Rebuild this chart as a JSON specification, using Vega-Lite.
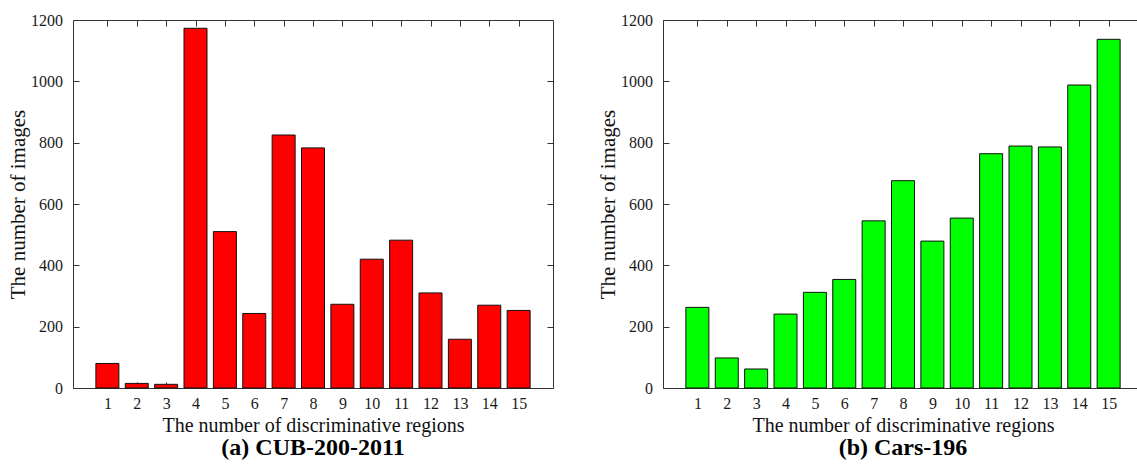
{
  "$schema": "https://vega.github.io/schema/vega-lite/v6.json",
  "padding": {"left": 7, "top": 11, "right": 0, "bottom": 0},
  "background": "white",
  "spacing": 110,
  "bounds": "flush",
  "datasets": {
    "cub": [
      {"regions": 1, "images": 80}, {"regions": 2, "images": 15}, {"regions": 3, "images": 12},
      {"regions": 4, "images": 1173}, {"regions": 5, "images": 510}, {"regions": 6, "images": 243},
      {"regions": 7, "images": 825}, {"regions": 8, "images": 783}, {"regions": 9, "images": 273},
      {"regions": 10, "images": 420}, {"regions": 11, "images": 482}, {"regions": 12, "images": 310},
      {"regions": 13, "images": 159}, {"regions": 14, "images": 270}, {"regions": 15, "images": 253}
    ],
    "cars": [
      {"regions": 1, "images": 263}, {"regions": 2, "images": 98}, {"regions": 3, "images": 62},
      {"regions": 4, "images": 241}, {"regions": 5, "images": 312}, {"regions": 6, "images": 354},
      {"regions": 7, "images": 545}, {"regions": 8, "images": 676}, {"regions": 9, "images": 479},
      {"regions": 10, "images": 554}, {"regions": 11, "images": 764}, {"regions": 12, "images": 789},
      {"regions": 13, "images": 786}, {"regions": 14, "images": 988}, {"regions": 15, "images": 1137}
    ]
  },
  "hconcat": [
    {
      "width": 480, "height": 368,
      "title": {"text": "(a) CUB-200-2011", "orient": "bottom", "offset": 1},
      "data": {"name": "cub"},
      "layer": [
        {
          "mark": {"type": "bar", "fill": "#ff0000", "stroke": "#111111", "strokeWidth": 1, "size": 23},
          "encoding": {
            "x": {"field": "regions", "type": "quantitative", "scale": {"domain": [0, 16], "nice": false},
                  "axis": {"orient": "bottom", "values": [1,2,3,4,5,6,7,8,9,10,11,12,13,14,15], "format": "d", "title": "The number of discriminative regions"}},
            "y": {"field": "images", "type": "quantitative", "scale": {"domain": [0, 1200], "nice": false},
                  "axis": {"orient": "left", "values": [0,200,400,600,800,1000,1200], "format": "d", "title": "The number of images"}}
          }
        },
        {
          "mark": {"type": "bar", "opacity": 0, "size": 23},
          "encoding": {
            "x": {"field": "regions", "type": "quantitative", "axis": {"orient": "top", "values": [1,2,3,4,5,6,7,8,9,10,11,12,13,14,15], "labels": false, "title": null}},
            "y": {"field": "images", "type": "quantitative", "axis": {"orient": "right", "values": [0,200,400,600,800,1000,1200], "labels": false, "title": null}}
          }
        }
      ],
      "resolve": {"axis": {"x": "independent", "y": "independent"}}
    },
    {
      "width": 480, "height": 368,
      "title": {"text": "(b) Cars-196", "orient": "bottom", "offset": 1},
      "data": {"name": "cars"},
      "layer": [
        {
          "mark": {"type": "bar", "fill": "#00ff00", "stroke": "#111111", "strokeWidth": 1, "size": 23},
          "encoding": {
            "x": {"field": "regions", "type": "quantitative", "scale": {"domain": [0, 16], "nice": false},
                  "axis": {"orient": "bottom", "values": [1,2,3,4,5,6,7,8,9,10,11,12,13,14,15], "format": "d", "title": "The number of discriminative regions"}},
            "y": {"field": "images", "type": "quantitative", "scale": {"domain": [0, 1200], "nice": false},
                  "axis": {"orient": "left", "values": [0,200,400,600,800,1000,1200], "format": "d", "title": "The number of images"}}
          }
        },
        {
          "mark": {"type": "bar", "opacity": 0, "size": 23},
          "encoding": {
            "x": {"field": "regions", "type": "quantitative", "axis": {"orient": "top", "values": [1,2,3,4,5,6,7,8,9,10,11,12,13,14,15], "labels": false, "title": null}},
            "y": {"field": "images", "type": "quantitative", "axis": {"orient": "right", "values": [0,200,400,600,800,1000,1200], "labels": false, "title": null}}
          }
        }
      ],
      "resolve": {"axis": {"x": "independent", "y": "independent"}}
    }
  ],
  "config": {
    "view": {"stroke": "#333333", "strokeWidth": 1},
    "axis": {
      "grid": false, "domain": false,
      "tickSize": -6, "tickColor": "#333333", "tickWidth": 1,
      "labelFont": "Liberation Serif", "labelFontSize": 16, "labelColor": "#1a1a1a",
      "titleFont": "Liberation Serif", "titleFontWeight": "normal", "titleColor": "#111111"
    },
    "axisX": {"labelPadding": 13, "titleFontSize": 20, "titlePadding": 4},
    "axisY": {"labelPadding": 16.5, "titleFontSize": 21, "titlePadding": 2},
    "title": {"font": "Liberation Serif", "fontSize": 24, "fontWeight": "bold", "color": "#000000"}
  }
}
